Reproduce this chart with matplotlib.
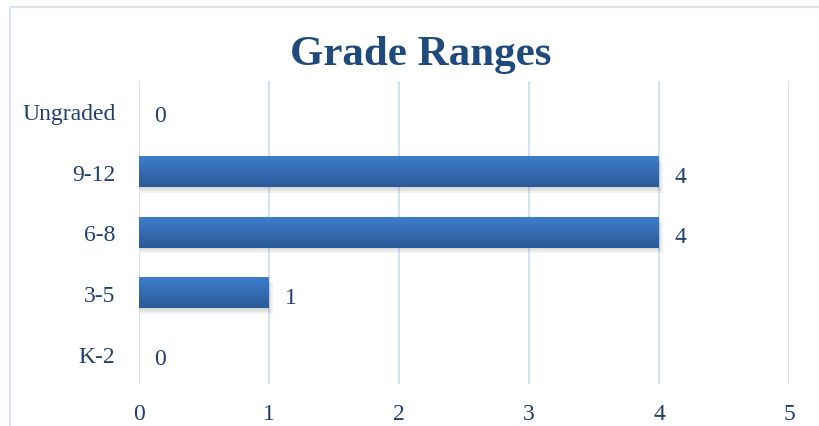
import numpy as np
import matplotlib.pyplot as plt
from matplotlib.patches import Rectangle
from matplotlib.colors import LinearSegmentedColormap

categories = ["K-2", "3-5", "6-8", "9-12", "Ungraded"]
values = [0, 1, 4, 4, 0]
x_ticks = [0, 1, 2, 3, 4, 5]

txt = "#1f3f6e"
grid_col = "#d6e2f3"
plt.rcParams['font.family'] = ['Liberation Serif', 'DejaVu Serif']

fig = plt.figure(figsize=(8.2, 4.27), dpi=100)
fig.patches.append(Rectangle((10 / 820, -0.5), 2, 1 - 8 / 427 + 0.5, transform=fig.transFigure,
                             fill=False, edgecolor=grid_col, linewidth=1.5))
ax = fig.add_axes([139 / 820, 42 / 427, 650 / 820, 303 / 427])

ypos = np.arange(len(categories))
bar_h = 0.5
grad = np.linspace(0, 1, 50).reshape(-1, 1)
cmap = LinearSegmentedColormap.from_list("g", ["#2b5a98", "#3e7dcc"])
for y, v in zip(ypos, values):
    if v > 0:
        # soft shadow under the bar
        for k in range(3):
            ax.add_patch(Rectangle((0.005 * k, y - bar_h / 2 - 0.03 - 0.03 * k), v + 0.01 * k, bar_h,
                                   facecolor="#000000", alpha=0.05, linewidth=0, zorder=2))
        ax.imshow(grad, extent=(0, v, y - bar_h / 2, y + bar_h / 2), origin="lower",
                  cmap=cmap, aspect="auto", zorder=3)
    ax.text(v + 0.12, y - 0.03, str(v), va="center_baseline", ha="left", fontsize=17, color=txt, zorder=4)

ax.set_xlim(0, 5)
ax.set_ylim(-0.5, len(categories) - 0.5)
ax.set_xticks(x_ticks)
ax.set_xticklabels([str(t) for t in x_ticks], fontsize=17, color=txt)
ax.set_yticks(ypos)
ax.set_yticklabels(categories, fontsize=17, color=txt)
ax.tick_params(length=0)
ax.tick_params(axis="y", pad=17)
ax.tick_params(axis="x", pad=14)
ax.grid(axis="x", color=grid_col, linewidth=1.5)
ax.set_axisbelow(True)
for s in ax.spines.values():
    s.set_visible(False)

fig.text(421 / 820, 1 - 55 / 427, "Grade Ranges", ha="center", va="center",
         fontsize=31, fontweight="bold", color="#1f4a7c")

fig.savefig("out.png", dpi=100)
